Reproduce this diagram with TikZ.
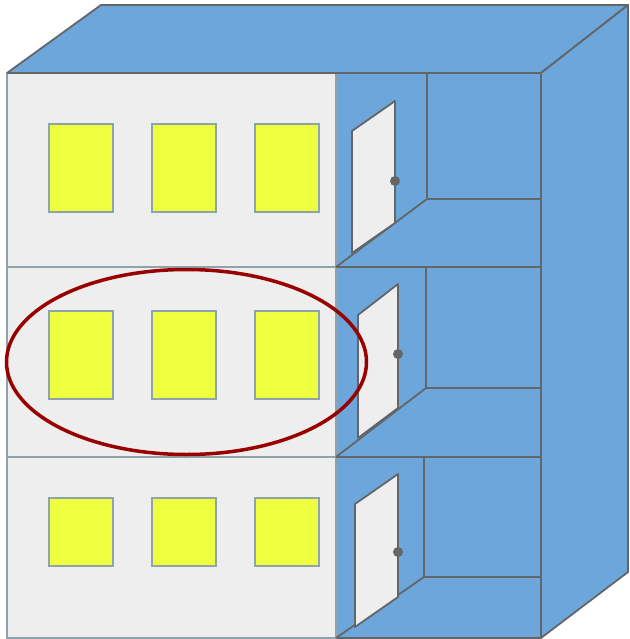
\documentclass[tikz,border=0pt]{standalone}
\usepackage{tikz}
\definecolor{roofblue}{RGB}{108,166,218}
\definecolor{wallgrey}{RGB}{238,238,238}
\definecolor{winyellow}{RGB}{238,255,64}
\definecolor{winedge}{RGB}{143,163,170}
\definecolor{edgegrey}{RGB}{98,102,105}
\definecolor{ovalred}{RGB}{153,0,0}
\tikzset{
  blueface/.style={fill=roofblue,draw=edgegrey,line width=1.8pt,line join=round},
  facade/.style={fill=wallgrey,draw=winedge,line width=1.6pt},
  window/.style={fill=winyellow,draw=winedge,line width=2pt},
  roomline/.style={draw=edgegrey,line width=1.8pt},
  door/.style={fill=wallgrey,draw=edgegrey,line width=1.8pt,line join=round},
  knob/.style={fill=edgegrey}
}
\begin{document}
\begin{tikzpicture}[x=1pt,y=-1pt]
                    \useasboundingbox (0,0) rectangle (629,639);
                    % roof and side
                    \draw[blueface] (7,73) -- (101,5) -- (628,5) -- (541,73) -- cycle;
                    \draw[blueface] (541,73) -- (628,5) -- (628,572) -- (541,638) -- cycle;
                    \draw[blueface] (336,73) rectangle (541,638);
                    % front wall
                    \draw[facade] (7,73) rectangle (336,638);
                    \draw[facade] (7,267) -- (336,267);
                    \draw[facade] (7,457) -- (336,457);
                    \draw[roomline] (7,73) -- (541,73);
                    % rooms
                    \draw[roomline] (336,267) -- (541,267);
                    \draw[roomline] (336,457) -- (541,457);
                    \draw[roomline] (427,73) -- (427,199) -- (541,199);
                    \draw[roomline] (336,267) -- (427,199);
                    \draw[roomline] (426,267) -- (426,388) -- (541,388);
                    \draw[roomline] (336,457) -- (426,388);
                    \draw[roomline] (424,457) -- (424,577) -- (541,577);
                    \draw[roomline] (336,638) -- (424,577);
                    % doors
                    \draw[door] (352,131) -- (395,101) -- (395,223) -- (352,253) -- cycle;
                    \fill[knob] (395,181) circle (5);
                    \draw[door] (358,315) -- (398,284) -- (398,408) -- (358,438) -- cycle;
                    \fill[knob] (398,354) circle (5);
                    \draw[door] (355,504) -- (398,474) -- (398,597) -- (355,627) -- cycle;
                    \fill[knob] (398,552) circle (5);
                    % windows
                    \draw[window] (49,124) rectangle (113,212);
                    \draw[window] (152,124) rectangle (216,212);
                    \draw[window] (255,124) rectangle (319,212);
                    \draw[window] (49,311) rectangle (113,399);
                    \draw[window] (152,311) rectangle (216,399);
                    \draw[window] (255,311) rectangle (319,399);
                    \draw[window] (49,498) rectangle (113,566);
                    \draw[window] (152,498) rectangle (216,566);
                    \draw[window] (255,498) rectangle (319,566);
                    % marked floor
                    \draw[ovalred,line width=3.5pt] (186.5,362) ellipse (180 and 92.5);
                \end{tikzpicture}
\end{document}
